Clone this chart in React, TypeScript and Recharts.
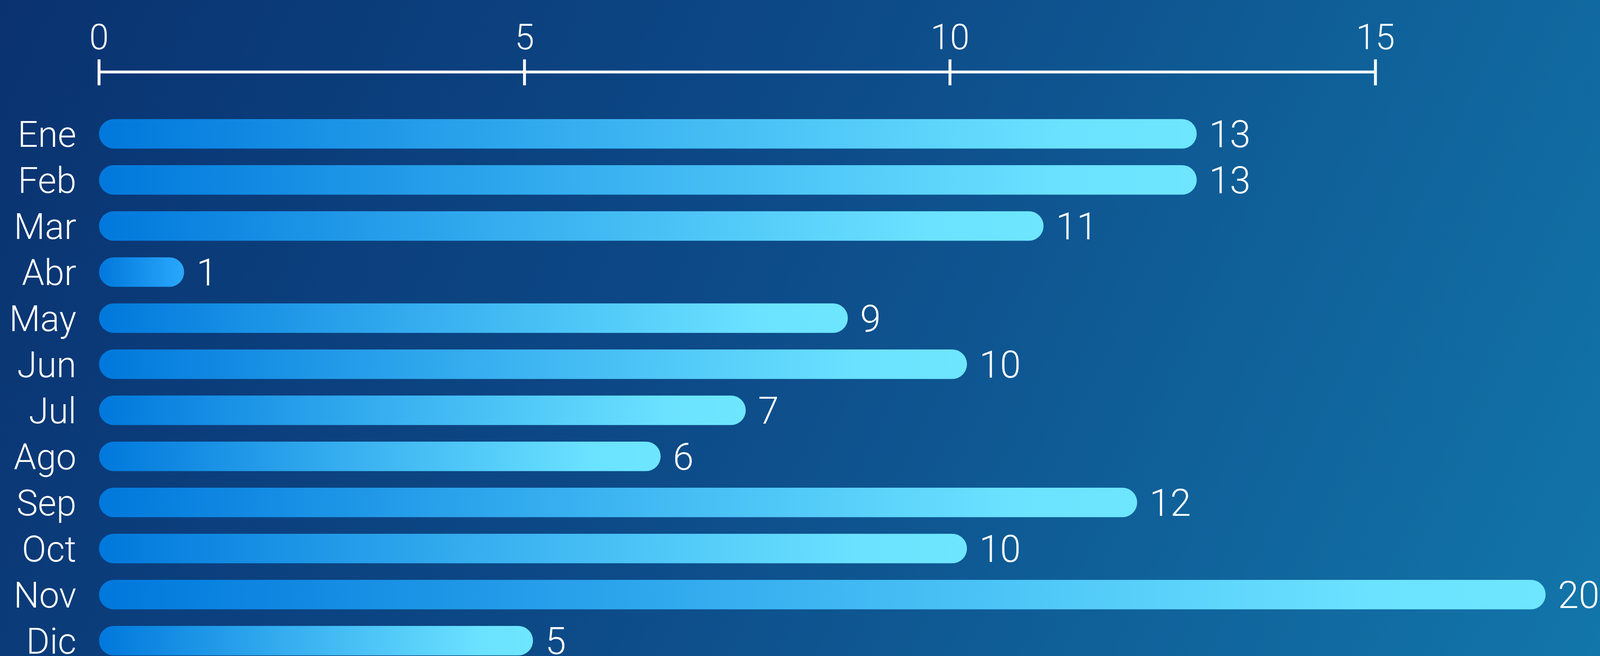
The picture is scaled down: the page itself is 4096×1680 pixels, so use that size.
import { BarChart, Bar, XAxis, YAxis, Cell, LabelList } from "recharts";

// reference is 4443 wide, window is 4096
const S = 4096 / 4443;

const months = ["Ene", "Feb", "Mar", "Abr", "May", "Jun", "Jul", "Ago", "Sep", "Oct", "Nov", "Dic"];
// numbers printed next to the bars
const counts = [13, 13, 11, 1, 9, 10, 7, 6, 12, 10, 20, 5];
// bar lengths as drawn against the top axis
const barLengths = [12.9, 12.9, 11.1, 1.0, 8.8, 10.2, 7.6, 6.6, 12.2, 10.2, 17.0, 5.1];
const xTicks = [0, 5, 10, 15];
const X_MAX = 17;

const data = months.map((month, i) => ({
  month,
  count: counts[i],
  length: barLengths[i],
}));

const CHART_W = 4096;
const CHART_H = Math.round(1844 * S);
const AXIS_H = 308 * S;
const YAXIS_W = 275 * S;
const MARGIN_R = 151 * S;
const PLOT_W = CHART_W - YAXIS_W - MARGIN_R;
const FONT = "Roboto, 'Noto Sans', sans-serif";

const AxisTick = (props: any) => {
  const { x, y, payload, index } = props;
  const unit = PLOT_W / X_MAX;
  const lineY = y - 108 * S;
  const next = xTicks[index + 1];
  return (
    <g>
      {next !== undefined && (
        <line
          x1={x}
          x2={x + (next - payload.value) * unit}
          y1={lineY}
          y2={lineY}
          stroke="#fff"
          strokeWidth={8 * S}
        />
      )}
      <line x1={x} x2={x} y1={y - 143 * S} y2={y - 71 * S} stroke="#fff" strokeWidth={8 * S} />
      <text
        x={x}
        y={y - 171 * S}
        textAnchor="middle"
        fill="#fff"
        fontSize={90}
        fontWeight={300}
        fontFamily={FONT}
      >
        {payload.value}
      </text>
    </g>
  );
};

export default function App() {
  return (
    <div
      style={{
        position: "absolute",
        left: 0,
        top: 0,
        width: 4096,
        height: 1680,
        overflow: "hidden",
        background: "linear-gradient(115deg, #0a3270 0%, #0d4a88 45%, #1276aa 100%)",
      }}
    >
      <BarChart
        width={CHART_W}
        height={CHART_H}
        data={data}
        layout="vertical"
        margin={{ top: 0, right: MARGIN_R, left: 0, bottom: 0 }}
      >
        <defs>
          <linearGradient id="barFill" x1="0" y1="0" x2="1" y2="0">
            <stop offset="0%" stopColor="#0078dc" />
            <stop offset="45%" stopColor="#38b0f0" />
            <stop offset="88%" stopColor="#6be2ff" />
            <stop offset="100%" stopColor="#6ee6ff" />
          </linearGradient>
          <linearGradient id="barShort" x1="0" y1="0" x2="1" y2="0">
            <stop offset="0%" stopColor="#0078dc" />
            <stop offset="100%" stopColor="#2aa8fc" />
          </linearGradient>
        </defs>
        <XAxis
          type="number"
          orientation="top"
          domain={[0, X_MAX]}
          ticks={xTicks}
          interval={0}
          height={AXIS_H}
          axisLine={false}
          tickLine={false}
          tickSize={0}
          tickMargin={0}
          tick={<AxisTick />}
        />
        <YAxis
          type="category"
          dataKey="month"
          width={YAXIS_W}
          axisLine={false}
          tickLine={false}
          tickSize={0}
          tickMargin={63 * S}
          interval={0}
          tick={{ fill: "#fff", fontSize: 92, fontWeight: 300, fontFamily: FONT }}
        />
        <Bar dataKey="length" barSize={82 * S} radius={41 * S} isAnimationActive={false}>
          {data.map((d) => (
            <Cell key={d.month} fill={d.length < 2 ? "url(#barShort)" : "url(#barFill)"} />
          ))}
          <LabelList
            dataKey="count"
            position="right"
            offset={34 * S}
            fill="#fff"
            fontSize={96}
            fontWeight={300}
            fontFamily={FONT}
          />
        </Bar>
      </BarChart>
    </div>
  );
}
